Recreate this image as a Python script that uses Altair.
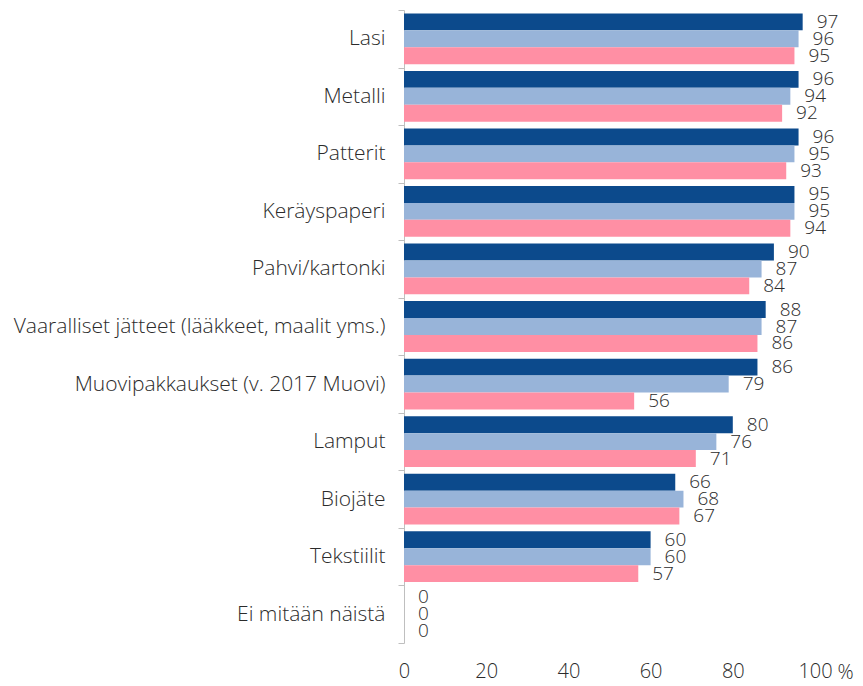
import altair as alt
import pandas as pd

categories = [
    "Lasi", "Metalli", "Patterit", "Keräyspaperi", "Pahvi/kartonki",
    "Vaaralliset jätteet (lääkkeet, maalit yms.)",
    "Muovipakkaukset (v. 2017 Muovi)", "Lamput", "Biojäte", "Tekstiilit",
    "Ei mitään näistä",
]
series = ["2021", "2019", "2017"]
values_2021 = [97, 96, 96, 95, 90, 88, 86, 80, 66, 60, 0]
values_2019 = [96, 94, 95, 95, 87, 87, 79, 76, 68, 60, 0]
values_2017 = [95, 92, 93, 94, 84, 86, 56, 71, 67, 57, 0]
colors = ["#0C4A8C", "#98B4D9", "#FF8FA4"]
x_ticks = [0, 20, 40, 60, 80, 100]

rows = []
for s, vals in zip(series, [values_2021, values_2019, values_2017]):
    for c, v in zip(categories, vals):
        rows.append({"kategoria": c, "sarja": s, "arvo": v})
df = pd.DataFrame(rows)

FONT = "Open Sans"
TXT = "#2B2B2B"
W = 300

y_enc = alt.Y("kategoria:N", sort=categories,
              scale=alt.Scale(paddingInner=0, paddingOuter=0),
              axis=alt.Axis(title=None, domainColor="#BFBFBF", tickColor="#BFBFBF",
                            tickSize=6, tickBand="extent", labelPadding=13,
                            labelFontSize=21, labelColor=TXT, labelFont=FONT,
                            labelFontWeight=W, labelLimit=500))
yoff = alt.YOffset("sarja:N", sort=series,
                   scale=alt.Scale(paddingOuter=0.2, paddingInner=0))
x_enc = alt.X("arvo:Q", scale=alt.Scale(domain=[0, 100]),
              axis=alt.Axis(values=x_ticks, title="%", grid=False, domain=False,
                            ticks=False, tickSize=0, labelPadding=18,
                            labelFlush=False,
                            labelFontSize=20, labelColor=TXT, labelFont=FONT,
                            labelFontWeight=W,
                            titleX=441, titleY=35, titleAngle=0,
                            titleAlign="center", titleBaseline="alphabetic",
                            titleFontSize=20, titleFontWeight=W,
                            titleColor=TXT, titleFont=FONT))

base = alt.Chart(df)

bars = base.mark_bar().encode(
    x=x_enc, y=y_enc, yOffset=yoff,
    color=alt.Color("sarja:N", sort=series,
                    scale=alt.Scale(domain=series, range=colors), legend=None),
)

labels = base.mark_text(align="left", baseline="middle", dx=14,
                        fontSize=19, font=FONT, fontWeight=W, color=TXT).encode(
    x="arvo:Q", y=alt.Y("kategoria:N", sort=categories), yOffset=yoff,
    text=alt.Text("arvo:Q", format="d"),
)

chart = alt.layer(bars, labels).properties(
    width=411, height=633,
    autosize=alt.AutoSizeParams(type="none"),
    padding={"left": 396, "top": 2, "right": 40, "bottom": 40},
).configure_view(stroke=None)

chart.save("out.html", embed_options={"renderer": "svg", "actions": False})
